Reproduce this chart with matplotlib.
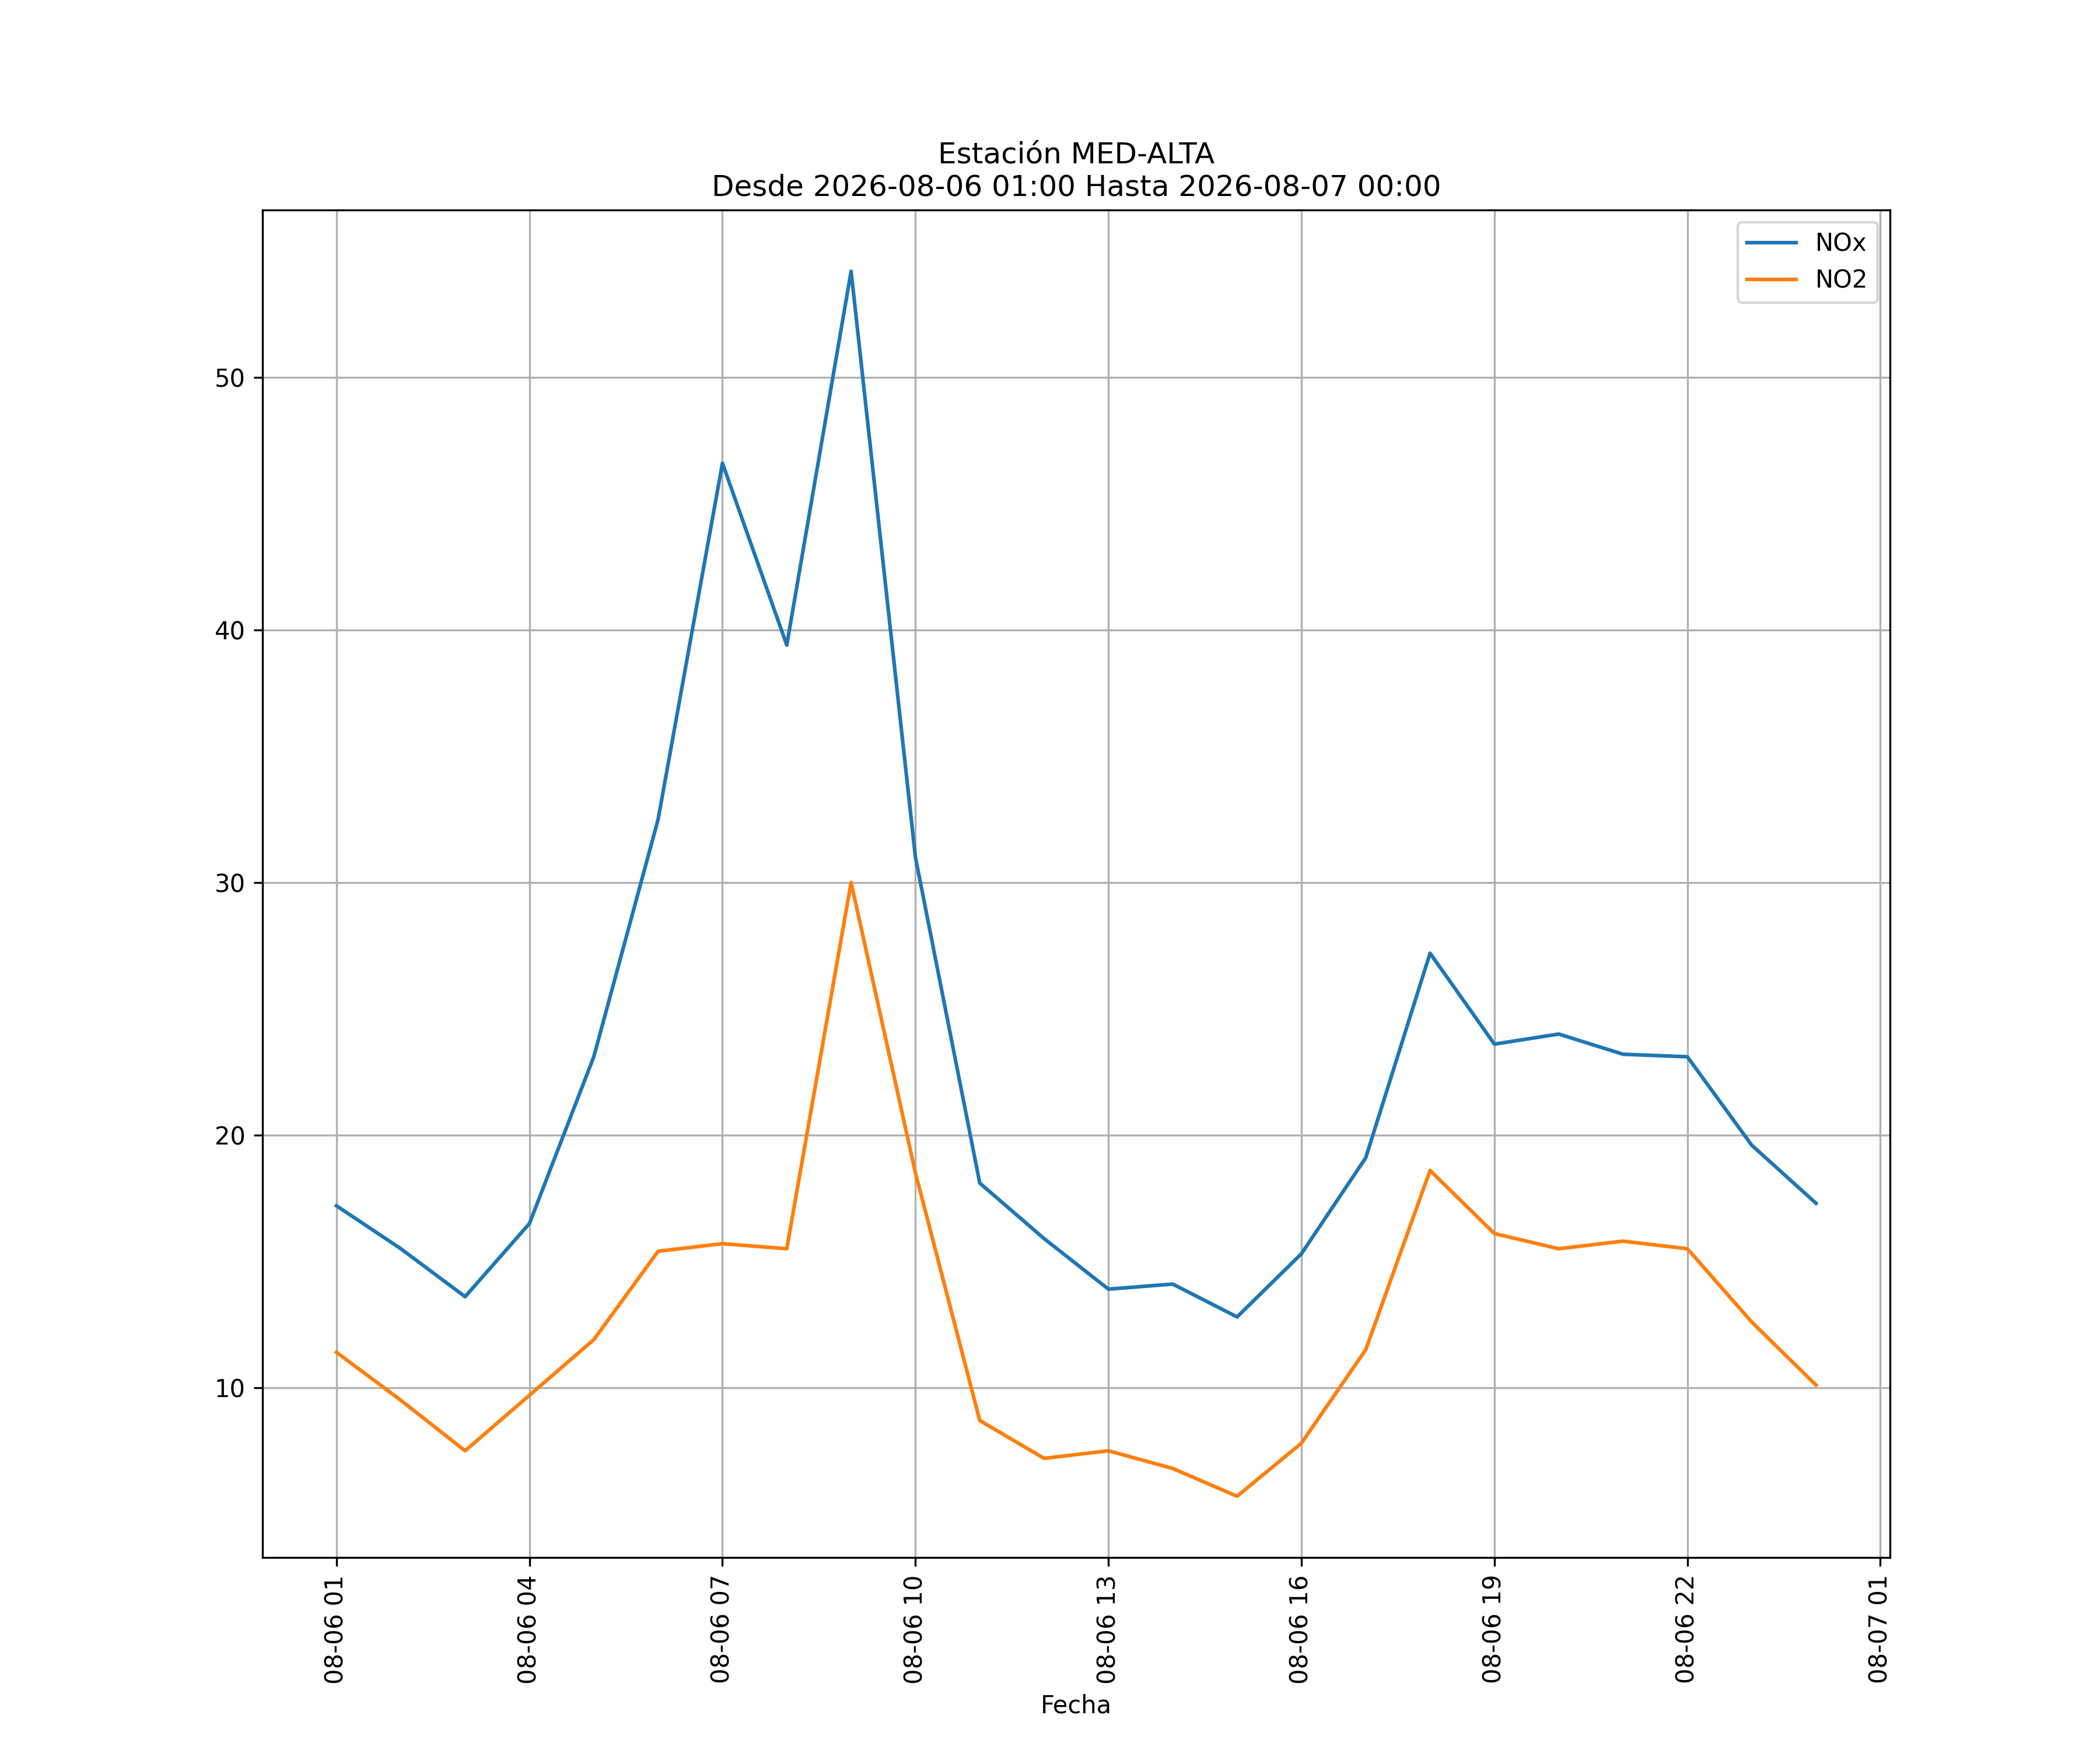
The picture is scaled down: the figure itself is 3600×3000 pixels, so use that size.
import matplotlib
matplotlib.use("Agg")
import matplotlib.pyplot as plt
import matplotlib.dates as mdates
import pandas as pd

fechas = pd.date_range("2026-08-06 01:00", "2026-08-07 00:00", freq="h")
nox = [17.2, 15.5, 13.6, 16.5, 23.1, 32.5, 46.6, 39.4, 54.2, 31.0, 18.1, 15.9,
       13.9, 14.1, 12.8, 15.3, 19.1, 27.2, 23.6, 24.0, 23.2, 23.1, 19.6, 17.3]
no2 = [11.4, 9.5, 7.5, 9.7, 11.9, 15.4, 15.7, 15.5, 30.0, 18.5, 8.7, 7.2,
       7.5, 6.8, 5.7, 7.8, 11.5, 18.6, 16.1, 15.5, 15.8, 15.5, 12.6, 10.1]

fig, ax = plt.subplots(figsize=(12, 10))
ax.plot(fechas, nox, label="NOx")
ax.plot(fechas, no2, label="NO2")
ax.set_title("Estación MED-ALTA\nDesde 2026-08-06 01:00 Hasta 2026-08-07 00:00")
ax.set_xlabel("Fecha")
ax.xaxis.set_major_locator(mdates.HourLocator(byhour=range(1, 24, 3)))
ax.xaxis.set_major_formatter(mdates.DateFormatter("%m-%d %H"))
plt.setp(ax.get_xticklabels(), rotation=90)
ax.grid(True)
ax.legend(loc="upper right")
plt.savefig("out.png", dpi=300)
